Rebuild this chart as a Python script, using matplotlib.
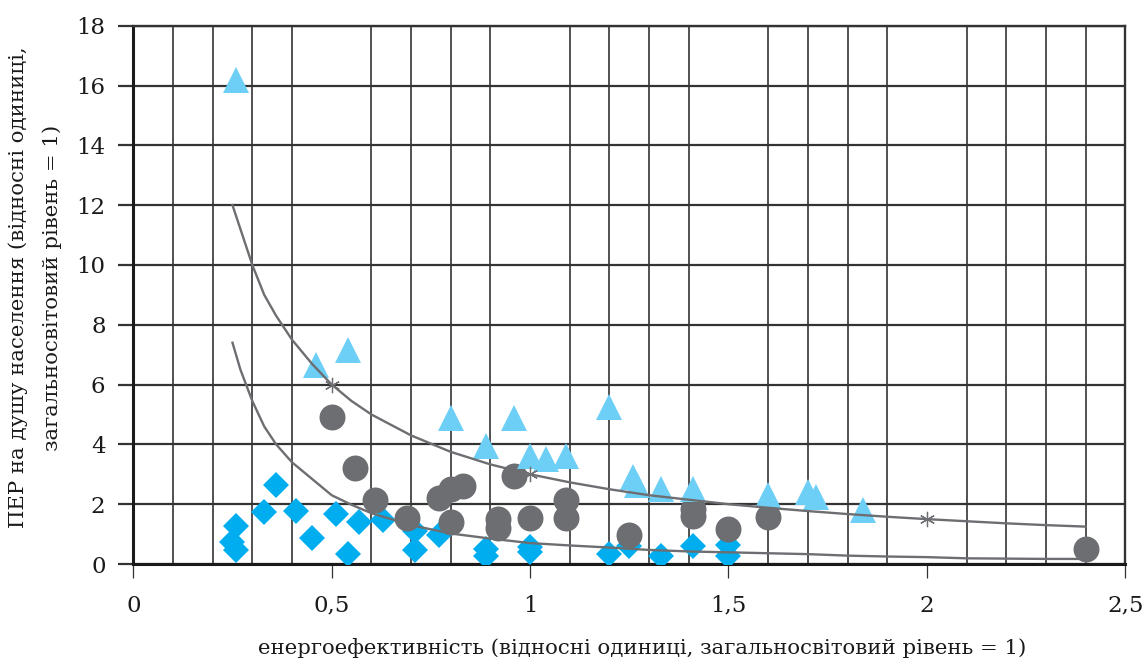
import matplotlib.pyplot as plt
from matplotlib.ticker import FuncFormatter

# triangles (light blue)
tri_x = [0.26, 0.46, 0.54, 0.80, 0.89, 0.96, 1.00, 1.04, 1.09, 1.20, 1.26, 1.27, 1.33, 1.41, 1.60, 1.70, 1.72, 1.84]
tri_y = [16.2, 6.65, 7.15, 4.87, 3.95, 4.87, 3.60, 3.50, 3.60, 5.25, 2.90, 2.65, 2.50, 2.50, 2.30, 2.40, 2.25, 1.80]

# diamonds (blue)
dia_x = [0.25, 0.26, 0.26, 0.33, 0.36, 0.41, 0.45, 0.51, 0.54, 0.57, 0.63, 0.71, 0.71, 0.77,
         0.89, 0.89, 1.00, 1.00, 1.20, 1.25, 1.33, 1.41, 1.50, 1.50]
dia_y = [0.75, 1.27, 0.47, 1.75, 2.65, 1.78, 0.86, 1.66, 0.33, 1.40, 1.47, 1.12, 0.48, 0.97,
         0.50, 0.28, 0.58, 0.40, 0.33, 0.60, 0.27, 0.60, 0.63, 0.27]

# circles (dark grey)
cir_x = [0.50, 0.56, 0.61, 0.69, 0.77, 0.80, 0.83, 0.80, 0.92, 0.92, 0.96, 1.00, 1.09, 1.09,
         1.25, 1.41, 1.41, 1.50, 1.60, 2.40]
cir_y = [4.90, 3.20, 2.15, 1.55, 2.20, 2.50, 2.60, 1.40, 1.50, 1.20, 2.95, 1.55, 2.15, 1.55,
         0.97, 1.85, 1.62, 1.16, 1.56, 0.49]

# upper curve
up_x = [0.25, 0.27, 0.30, 0.33, 0.36, 0.40, 0.45, 0.50, 0.55, 0.60, 0.70, 0.80, 0.90, 1.00,
        1.10, 1.20, 1.30, 1.40, 1.50, 1.60, 1.70, 1.80, 1.90, 2.00, 2.10, 2.20, 2.30, 2.40]
up_y = [12.0, 11.2, 10.0, 9.0, 8.3, 7.5, 6.7, 6.0, 5.45, 5.0, 4.3, 3.75, 3.33, 3.0,
        2.73, 2.5, 2.3, 2.15, 2.0, 1.88, 1.77, 1.67, 1.58, 1.5, 1.43, 1.36, 1.3, 1.25]

# lower curve
lo_x = up_x
lo_y = [7.4, 6.5, 5.45, 4.6, 4.0, 3.4, 2.85, 2.3, 1.98, 1.7, 1.3, 1.02, 0.85, 0.7,
        0.62, 0.55, 0.47, 0.42, 0.39, 0.36, 0.33, 0.28, 0.25, 0.23, 0.19, 0.18, 0.17, 0.17]

# marked points on the upper curve
star_x = [0.5, 1.0, 2.0]
star_y = [6.0, 3.0, 1.5]

x_ticks = [0, 0.5, 1, 1.5, 2, 2.5]
y_ticks = [0, 2, 4, 6, 8, 10, 12, 14, 16, 18]
x_minor = [i / 10 for i in range(26)]

x_label = "енергоефективність (відносні одиниці, загальносвітовий рівень = 1)"
y_label_1 = "ПЕР на душу населення (відносні одиниці,"
y_label_2 = "загальносвітовий рівень = 1)"

grey = "#6d6e71"
grid_c = "#333333"

plt.rcParams["font.family"] = ["DejaVu Serif"]

fig = plt.figure(figsize=(11.45, 6.64), dpi=100)
ax = fig.add_axes([0.1164, 0.1506, 0.8664, 0.8107])
ax.set_xlim(0, 2.5)
ax.set_ylim(0, 18)

ax.set_xticks(x_ticks)
ax.set_xticks(x_minor, minor=True)
ax.set_yticks(y_ticks)
fmt = FuncFormatter(lambda v, _: f"{v:g}".replace(".", ","))
ax.xaxis.set_major_formatter(fmt)

ax.grid(True, which="major", axis="y", color=grid_c, lw=1.6)
ax.grid(True, which="minor", axis="x", color=grid_c, lw=1.2)
ax.set_axisbelow(True)

ax.tick_params(axis="x", which="major", length=10, width=0.9, color=grid_c,
               pad=12, labelsize=16.5, labelcolor="#1a1a1a")
ax.tick_params(axis="x", which="minor", length=0)
ax.tick_params(axis="y", length=11, width=1.6, color=grid_c, pad=9,
               labelsize=16.5, labelcolor="#1a1a1a")

for side in ["left", "bottom"]:
    ax.spines[side].set_linewidth(2.2)
    ax.spines[side].set_color("#1a1a1a")
for side in ["top", "right"]:
    ax.spines[side].set_linewidth(1.7)
    ax.spines[side].set_color(grid_c)

ax.plot(dia_x, dia_y, "D", ms=13.7, color="#00aeef", mew=0, zorder=3)
ax.plot(cir_x, cir_y, "o", ms=18.7, color=grey, mew=0, zorder=4)
ax.plot(tri_x, tri_y, "^", ms=19.4, color="#6dcff6", mew=0, zorder=5)

ax.plot(up_x, up_y, color=grey, lw=1.7, zorder=6)
ax.plot(lo_x, lo_y, color=grey, lw=1.7, zorder=6)
ax.plot(star_x, star_y, ls="none", marker=(6, 2, 0), ms=11, mew=0.9,
        color=grey, zorder=7)

fig.text(0.5607, 0.024, x_label, ha="center", va="center", fontsize=15.3,
         color="#1a1a1a")
fig.text(0.0157, 0.567, y_label_1, rotation=90, ha="center", va="center",
         fontsize=15.3, color="#1a1a1a")
fig.text(0.0454, 0.567, y_label_2, rotation=90, ha="center", va="center",
         fontsize=15.3, color="#1a1a1a")

fig.savefig("out.png", dpi=100)
